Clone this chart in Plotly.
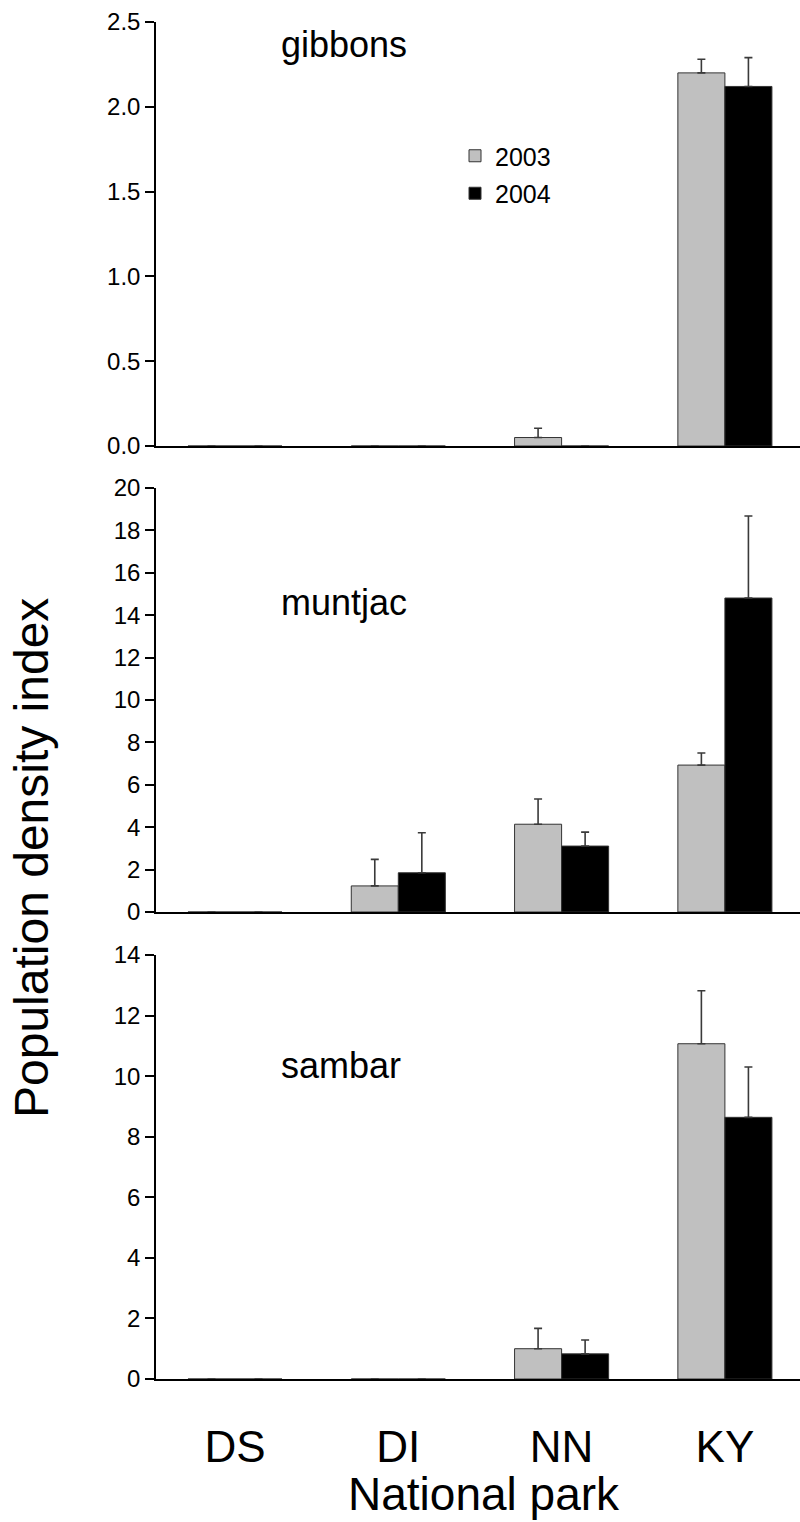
import plotly.graph_objects as go
from plotly.subplots import make_subplots

parks = ["DS", "DI", "NN", "KY"]
years = ["2003", "2004"]
species = ["gibbons", "muntjac", "sambar"]

gibbons_2003 = [0, 0, 0.05, 2.20]
gibbons_2004 = [0, 0, 0, 2.12]
gibbons_2003_err = [0, 0, 0.055, 0.08]
gibbons_2004_err = [0, 0, 0, 0.17]

muntjac_2003 = [0, 1.23, 4.14, 6.93]
muntjac_2004 = [0, 1.85, 3.11, 14.81]
muntjac_2003_err = [0, 1.25, 1.19, 0.57]
muntjac_2004_err = [0, 1.89, 0.66, 3.87]

sambar_2003 = [0, 0, 1.00, 11.07]
sambar_2004 = [0, 0, 0.83, 8.64]
sambar_2003_err = [0, 0, 0.67, 1.75]
sambar_2004_err = [0, 0, 0.46, 1.66]

y_ranges = [(0, 2.5, 0.5), (0, 20, 2), (0, 14, 2)]

values = [
    (gibbons_2003, gibbons_2003_err, gibbons_2004, gibbons_2004_err),
    (muntjac_2003, muntjac_2003_err, muntjac_2004, muntjac_2004_err),
    (sambar_2003, sambar_2003_err, sambar_2004, sambar_2004_err),
]

W, H = 800, 1522
L = 156
panel_px = [(22, 446), (488, 912), (955, 1379)]

fig = make_subplots(rows=3, cols=1, shared_xaxes=False)

FONT = "Liberation Sans, Arial, Helvetica, sans-serif"
GRAY = "#c0c0c0"
ERRC = "#3a3a3a"

xs = list(range(len(parks)))
for i, (v3, e3, v4, e4) in enumerate(values):
    r = i + 1
    fig.add_trace(go.Bar(
        x=xs, y=v3, name=years[0], legendgroup="a",
        marker=dict(color=GRAY, line=dict(color="#333333", width=1)),
        error_y=dict(type="data", array=e3, symmetric=False,
                     arrayminus=[0] * len(e3), color=ERRC, thickness=1.6, width=4),
        showlegend=(i == 0)), row=r, col=1)
    fig.add_trace(go.Bar(
        x=xs, y=v4, name=years[1], legendgroup="b",
        marker=dict(color="#000000", line=dict(color="#333333", width=1)),
        error_y=dict(type="data", array=e4, symmetric=False,
                     arrayminus=[0] * len(e4), color=ERRC, thickness=1.6, width=4),
        showlegend=(i == 0)), row=r, col=1)

x0 = -(235 - L) / 163.3
x1 = x0 + (W - L) / 163.3

for i in range(3):
    r = i + 1
    top, bot = panel_px[i]
    lo, hi, dt = y_ranges[i]
    fig.update_yaxes(
        range=[lo, hi], dtick=dt, tick0=0,
        tickformat=".1f" if i == 0 else "d",
        domain=[1 - bot / H, 1 - top / H],
        showline=True, linecolor="black", linewidth=1.5,
        ticks="outside", ticklen=9, tickcolor="black", tickwidth=1.5,
        showgrid=False, zeroline=False,
        tickfont=dict(family=FONT, size=24, color="black"),
        automargin=False, row=r, col=1)
    fig.update_xaxes(
        range=[x0, x1], tickvals=xs, ticktext=parks,
        showticklabels=(i == 2),
        showline=True, linecolor="black", linewidth=1.5,
        ticks="", showgrid=False, zeroline=False,
        tickfont=dict(family=FONT, size=44, color="black"),
        ticklabelstandoff=28,
        automargin=False, row=r, col=1)

ann = []
label_pos = [(279, 45), (279, 602), (279, 1065)]
for i, name in enumerate(species):
    lx, ly = label_pos[i]
    ann.append(dict(text=name, x=(lx - L) / (W - L), y=1 - ly / H,
                    xref="paper", yref="paper", xanchor="left", yanchor="middle",
                    showarrow=False, font=dict(family=FONT, size=36, color="black")))
ann.append(dict(text="National park", x=(484 - L) / (W - L), y=1 - 1494 / H,
                xref="paper", yref="paper", xanchor="center", yanchor="middle",
                showarrow=False, font=dict(family=FONT, size=46, color="black")))
ann.append(dict(text="Population density index", x=(31 - L) / (W - L), y=1 - 858 / H,
                xref="paper", yref="paper", xanchor="center", yanchor="middle",
                textangle=-90, showarrow=False,
                font=dict(family=FONT, size=48, color="black")))

fig.update_layout(
    width=W, height=H,
    margin=dict(l=L, r=0, t=0, b=0),
    paper_bgcolor="white", plot_bgcolor="white",
    barmode="group", bargap=0.424, bargroupgap=0,
    annotations=ann,
    legend=dict(x=(455 - L) / (W - L), y=1 - 133 / H, xanchor="left", yanchor="top",
                font=dict(family=FONT, size=25, color="black"),
                traceorder="grouped", tracegroupgap=2,
                bgcolor="rgba(0,0,0,0)", borderwidth=0),
)

fig.write_html("out.html")
